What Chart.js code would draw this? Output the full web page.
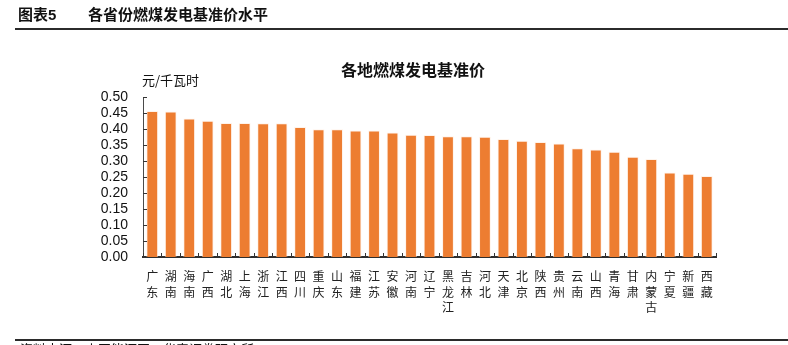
<!DOCTYPE html>
<html>
<head>
<meta charset="utf-8">
<script src="https://cdn.jsdelivr.net/npm/chart.js@4/dist/chart.umd.min.js"></script>
<style>
  html, body { margin: 0; padding: 0; background: #fff; }
  #wrap { position: relative; width: 788px; height: 345px; overflow: hidden; font-family: "Liberation Sans", "Noto Sans CJK SC", sans-serif; color: #111; }
  #chart { position: absolute; left: 0; top: 0; }
  .txt { position: absolute; white-space: nowrap; line-height: 1; }
  #figno { left: 18px; top: 7px; font-size: 15px; font-weight: bold; }
  #figname { left: 88px; top: 7px; font-size: 15px; font-weight: bold; }
  #topline { position: absolute; left: 15px; right: 0; top: 28px; height: 2px; background: #2b2b2b; }
  #title { left: 0; width: 826px; text-align: center; top: 61px; font-size: 16px; font-weight: bold; font-family: "Noto Sans CJK SC", sans-serif; }
  #unit { left: 142px; top: 73px; font-size: 13px; font-family: "Noto Sans CJK SC", sans-serif; }
  #botline { position: absolute; left: 15px; right: 0; top: 339px; height: 2px; background: #2b2b2b; }
  #source { left: 20px; top: 342px; font-size: 13px; font-family: "Noto Sans CJK SC", sans-serif; }
</style>
</head>
<body>
<div id="wrap">
  <canvas id="chart" width="788" height="345"></canvas>
  <div class="txt" id="figno">图表5</div>
  <div class="txt" id="figname">各省份燃煤发电基准价水平</div>
  <div id="topline"></div>
  <div class="txt" id="title">各地燃煤发电基准价</div>
  <div class="txt" id="unit">元/千瓦时</div>
  <div id="botline"></div>
  <div class="txt" id="source">资料来源：中国能源网，华泰证券研究所</div>
</div>
<script>
// Provinces, ordered from highest to lowest benchmark price
const provinces = [
  '广东', '湖南', '海南', '广西', '湖北', '上海', '浙江', '江西', '四川', '重庆',
  '山东', '福建', '江苏', '安徽', '河南', '辽宁', '黑龙江', '吉林', '河北', '天津',
  '北京', '陕西', '贵州', '云南', '山西', '青海', '甘肃', '内蒙古', '宁夏', '新疆', '西藏'
];

// Coal-fired power benchmark price, yuan per kWh
const benchmarkPrice = [
  0.456, 0.455, 0.433, 0.426, 0.419, 0.419, 0.418, 0.418, 0.406, 0.399,
  0.399, 0.395, 0.395, 0.389, 0.382, 0.381, 0.377, 0.377, 0.376, 0.369,
  0.363, 0.359, 0.355, 0.340, 0.336, 0.329, 0.313, 0.306, 0.264, 0.260, 0.253
];

// Y axis tick range
const yMin = 0;
const yMax = 0.5;
const yStep = 0.05;

// Each province name is drawn one character per line
const verticalLabels = provinces.map(name => Array.from(name));

// Short inward tick marks on both axes
const innerTicks = {
  id: 'innerTicks',
  afterDatasetsDraw(chart) {
    const { ctx, chartArea, scales } = chart;
    ctx.save();
    ctx.strokeStyle = '#333';
    ctx.lineWidth = 1;
    ctx.beginPath();
    const ys = scales.y;
    ys.ticks.forEach((t, i) => {
      const py = Math.round(ys.getPixelForTick(i)) + 0.5;
      ctx.moveTo(chartArea.left, py);
      ctx.lineTo(chartArea.left + 4, py);
    });
    const xs = scales.x;
    const n = xs.ticks.length;
    for (let i = 0; i <= n; i++) {
      const px = Math.round(xs.getPixelForValue(i - 0.5)) + 0.5;
      ctx.moveTo(px, chartArea.bottom);
      ctx.lineTo(px, chartArea.bottom - 4);
    }
    ctx.stroke();
    ctx.restore();
  }
};

new Chart(document.getElementById('chart'), {
  type: 'bar',
  data: {
    labels: verticalLabels,
    datasets: [{
      label: '燃煤发电基准价',
      data: benchmarkPrice,
      backgroundColor: '#ED7D31',
      borderColor: 'rgba(255,235,220,0.6)',
      borderWidth: 1,
      borderSkipped: 'bottom',
      barPercentage: 0.64,
      categoryPercentage: 1.0
    }]
  },
  options: {
    responsive: false,
    animation: false,
    events: [],
    layout: { padding: { left: 0, top: 97, right: 72, bottom: 28 } },
    plugins: {
      legend: { display: false },
      title: { display: false },
      tooltip: { enabled: false }
    },
    scales: {
      x: {
        offset: true,
        grid: { display: false, drawTicks: false },
        border: { display: true, color: '#2e2e2e', width: 2 },
        ticks: {
          autoSkip: false,
          maxRotation: 0,
          minRotation: 0,
          padding: 11,
          color: '#222',
          font: { family: '"Noto Sans CJK SC", sans-serif', size: 12, lineHeight: 1.33 }
        },
        afterFit(scale) { scale.height = 60; }
      },
      y: {
        min: yMin,
        max: yMax,
        grid: { display: false, drawTicks: false },
        border: { display: true, color: '#4a4a4a', width: 1 },
        ticks: {
          stepSize: yStep,
          autoSkip: false,
          padding: 15,
          color: '#111',
          font: { family: '"Liberation Sans", Arial, sans-serif', size: 14 },
          callback: v => Number(v).toFixed(2)
        },
        afterFit(scale) { scale.width = 143; }
      }
    }
  },
  plugins: [innerTicks]
});
</script>
</body>
</html>
